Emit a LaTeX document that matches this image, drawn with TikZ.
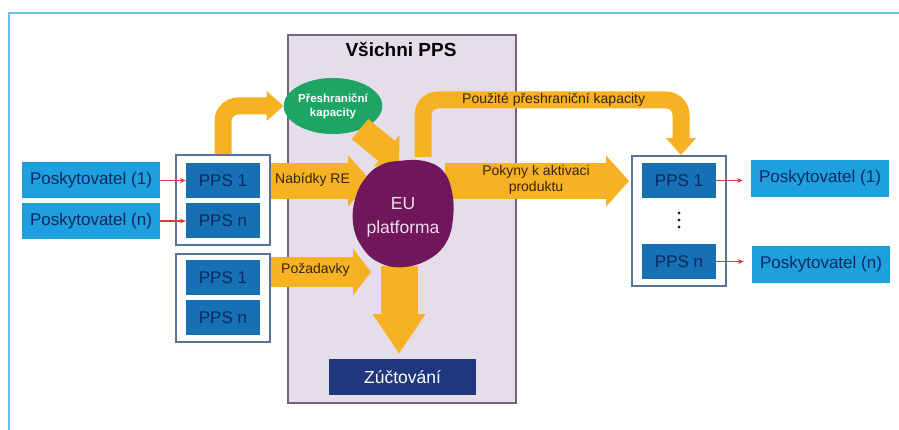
\documentclass[tikz,border=0pt]{standalone}
\usepackage{fontspec}
\setmainfont{Liberation Sans}
\usetikzlibrary{arrows.meta,shapes.geometric}
\definecolor{frameblue}{RGB}{110,190,235}
\definecolor{provblue}{RGB}{30,160,222}
\definecolor{ppsblue}{RGB}{22,112,180}
\definecolor{navytext}{RGB}{15,40,95}
\definecolor{grpline}{RGB}{85,115,155}
\definecolor{orng}{RGB}{247,178,35}
\definecolor{lav}{RGB}{230,221,235}
\definecolor{lavline}{RGB}{115,100,125}
\definecolor{blobc}{RGB}{112,22,90}
\definecolor{greenc}{RGB}{28,165,100}
\definecolor{zuc}{RGB}{32,55,125}
\definecolor{redc}{RGB}{220,60,60}
\definecolor{arrtext}{RGB}{55,38,10}
\definecolor{blobtext}{RGB}{242,222,238}
\tikzset{
  prov/.style={fill=provblue, minimum width=138pt, minimum height=36pt, inner sep=0pt,
    text=navytext, font=\fontsize{17}{20}\selectfont},
  pps/.style={fill=ppsblue, minimum width=74pt, minimum height=35pt, inner sep=0pt,
    text=navytext, font=\fontsize{17}{20}\selectfont},
  grp/.style={draw=grpline, line width=1.8pt, inner sep=0pt},
  redarr/.style={draw=redc, line width=1.3pt, -{Stealth[length=6pt,width=5pt]}},
  fatarrow/.style={draw=orng, line width=36pt, -{Triangle[length=23pt,width=50pt]}},
  thinarrow/.style={draw=orng, line width=17pt, rounded corners=15pt, -{Triangle[length=17pt,width=29pt]}},
  arrlabel/.style={text=arrtext, inner sep=0pt, font=\fontsize{14}{16}\selectfont}
}
\begin{document}
\begin{tikzpicture}[x=1pt,y=-1pt]
\useasboundingbox (0,0) rectangle (899,430);
\fill[white] (0,0) rectangle (899,430);
% frame
\draw[frameblue, line width=2pt] (9,430) -- (9,13) -- (899,13);

% main box
\node[fill=lav, draw=lavline, line width=1.5pt, minimum width=228pt, minimum height=368pt, inner sep=0pt] (allpps) at (402,219) {};
\node[font=\bfseries\fontsize{19}{22}\selectfont, text=black] (title) at (401,50) {Všichni PPS};

% left side
\node[prov] (provL1) at (91,180.5) {Poskytovatel (1)};
\node[prov] (provLn) at (91,221) {Poskytovatel (n)};
\node[grp, minimum width=94pt, minimum height=90pt] (grpL1) at (223,200) {};
\node[pps] (ppsL1a) at (223,180.5) {PPS 1};
\node[pps] (ppsL1n) at (223,220.5) {PPS n};
\node[grp, minimum width=94pt, minimum height=88pt] (grpL2) at (223,298) {};
\node[pps] (ppsL2a) at (223,277.5) {PPS 1};
\node[pps] (ppsL2n) at (223,317.5) {PPS n};

\draw[redarr] (provL1.east) -- (ppsL1a.west);
\draw[redarr] (provLn.east) -- (ppsL1n.west |- provLn.east);

% right side
\node[grp, minimum width=94pt, minimum height=130pt] (grpR) at (679,221) {};
\node[pps] (ppsR1) at (679,180.5) {PPS 1};
\node[pps] (ppsRn) at (679,261.5) {PPS n};
\node[prov, minimum height=37pt] (provR1) at (820,178.5) {Poskytovatel (1)};
\node[prov] (provRn) at (821,264.5) {Poskytovatel (n)};
\foreach \yy in {213,220,227} \fill[navytext] (679,\yy) circle (1.6pt);

\draw[redarr, shorten >=8pt] (ppsR1.east) -- (ppsR1.east -| provR1.west);
\draw[redarr, shorten >=8pt] (ppsRn.east) -- (ppsRn.east -| provRn.west);

% ellipse
\node[ellipse, fill=greenc, minimum width=84pt, minimum height=56pt, inner sep=0pt,
  text=white, align=center, font=\bfseries\fontsize{11.5}{14}\selectfont] (ell) at (333,106) {Přeshraniční\\kapacity};

% blob node (for anchoring)
\node[circle, minimum size=100pt, inner sep=0pt] (blob) at (403,214) {};
\coordinate (blobtop) at (423,157);
\coordinate (usedtop) at (681,100);
\coordinate (nabtip) at (371,181);
\coordinate (pozstart) at (271,272);
\coordinate (poztip) at (371,272);
\coordinate (poktail) at (445,181);
\coordinate (pokhead) at (629,181);
\coordinate (ellout) at (360,129);
\coordinate (ellin) at (399,161);
\coordinate (downtail) at (399,266);
\coordinate (zucttop) at (399,354);

% orange arrows
\draw[thinarrow] (grpL1.north) |- (ell.west);
\draw[fatarrow] (grpL1.east |- nabtip) -- (nabtip);
\draw[draw=orng, line width=30pt, -{Triangle[length=18pt,width=46pt]}] (pozstart) -- (poztip);
\draw[draw=orng, line width=26pt, -{Triangle[length=16pt,width=40pt]}] (ellout) -- (ellin);
\draw[thinarrow] (blobtop) |- (usedtop) -- (usedtop |- grpR.north);
\draw[fatarrow] (poktail) -- (pokhead);
\draw[draw=orng, line width=37pt, -{Triangle[length=40pt,width=50pt]}] (downtail) -- (zucttop);

% blob
\fill[blobc] plot[smooth cycle, tension=0.7] coordinates {(398,161) (424,161) (443,171) (452,192) (453,218) (447,241) (431,258) (405,267) (380,263) (362,247) (353,223) (356,196) (367,176) (381,165)};
\node[text=blobtext, align=center, font=\fontsize{17.5}{24}\selectfont] (eutext) at (403,217) {EU\\platforma};

% labels on arrows
\node[arrlabel, anchor=west] (nablab) at (275,180) {Nabídky RE};
\node[arrlabel, anchor=west] (pozlab) at (281,270) {Požadavky};
\node[arrlabel, anchor=west] (usedlab) at (462,100) {Použité přeshraniční kapacity};
\node[arrlabel, align=center, font=\fontsize{14}{16}\selectfont] (poklab) at (536,180) {Pokyny k aktivaci\\produktu};

% settlement
\node[fill=zuc, minimum width=147pt, minimum height=36pt, inner sep=0pt, text=white,
  font=\fontsize{17.5}{20}\selectfont] (zuct) at (402.5,377) {Zúčtování};
\end{tikzpicture}
\end{document}
